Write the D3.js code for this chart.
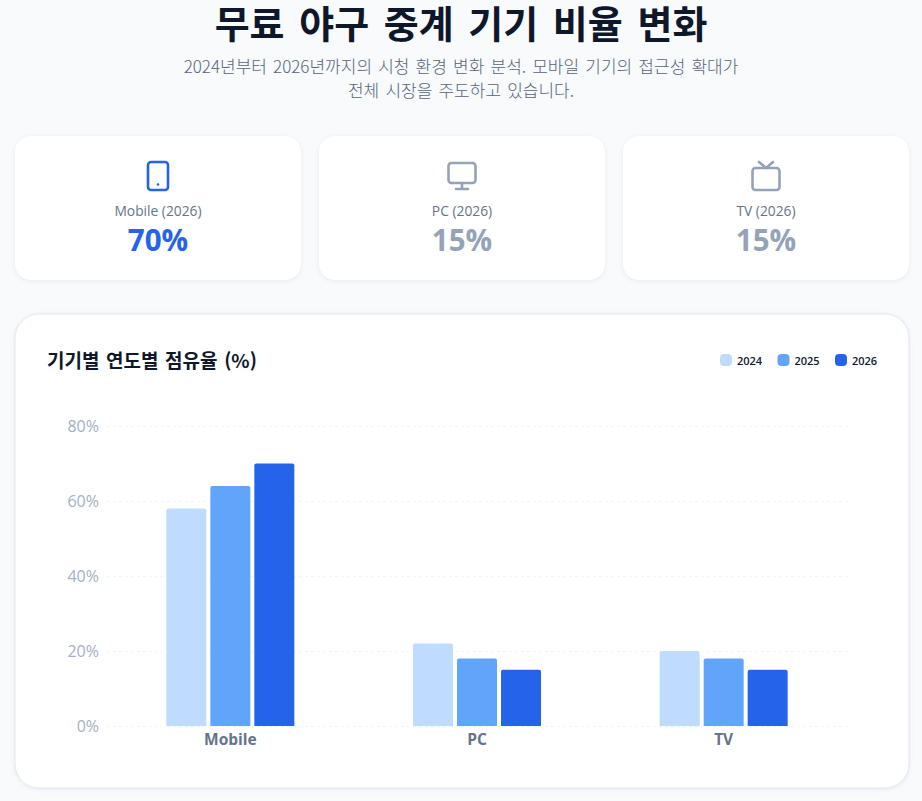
<!DOCTYPE html>
<html lang="ko">
<head>
<meta charset="utf-8">
<script src="https://cdn.jsdelivr.net/npm/d3@7"></script>
<style>
	html, body { margin: 0; padding: 0; background: #f8fafc; overflow: hidden; }
	svg { display: block; }
	text { font-family: "Noto Sans CJK KR", "Noto Sans", sans-serif; }
	.latin { font-family: "Open Sans", "Noto Sans CJK KR", sans-serif; }
	.card { fill: #fff; filter: drop-shadow(0 1px 2px rgba(15, 23, 42, 0.07)); }
</style>
</head>
<body>
<div id="chart"></div>
<script>
const devices = ['Mobile', 'PC', 'TV'];
const years = ['2024', '2025', '2026'];
const share2024 = [58, 22, 20];
const share2025 = [64, 18, 18];
const share2026 = [70, 15, 15];
const yTicks = [0, 20, 40, 60, 80];
const yearColors = ['#bfdbfe', '#60a5fa', '#2563eb'];

const titleText = '무료 야구 중계 기기 비율 변화';
const subtitleLines = [
	'2024년부터 2026년까지의 시청 환경 변화 분석. 모바일 기기의 접근성 확대가',
	'전체 시장을 주도하고 있습니다.',
];
const chartTitle = '기기별 연도별 점유율 (%)';

const svg = d3.select('#chart').append('svg').attr('width', 922).attr('height', 801);

// header
svg.append('text')
	.attr('x', 461).attr('y', 38)
	.attr('text-anchor', 'middle')
	.attr('font-size', 38).attr('font-weight', 700)
	.attr('word-spacing', 4)
	.attr('fill', '#0f172a')
	.text(titleText);

svg.selectAll('.subtitle')
	.data(subtitleLines)
	.join('text')
	.attr('class', 'subtitle')
	.attr('x', 461)
	.attr('y', (d, i) => 73 + i * 24)
	.attr('text-anchor', 'middle')
	.attr('font-size', 17)
	.attr('font-weight', 300)
	.attr('word-spacing', 1.4)
	.attr('fill', '#566579')
	.text((d) => d);

// summary cards
const cardX = [15, 319, 623];
const cardColors = ['#2563eb', '#94a3b8', '#94a3b8'];
const icons = [
	(g, color) => {
		g.append('rect').attr('x', -10).attr('y', -14).attr('width', 20).attr('height', 28).attr('rx', 3);
		g.append('circle').attr('cx', 0).attr('cy', 8.5).attr('r', 1.3).attr('fill', color).attr('stroke', 'none');
	},
	(g) => {
		g.append('rect').attr('x', -13.5).attr('y', -13).attr('width', 27).attr('height', 20).attr('rx', 3);
		g.append('path').attr('d', 'M0 7V13M-6 13H6');
	},
	(g) => {
		g.append('rect').attr('x', -13.5).attr('y', -8).attr('width', 27).attr('height', 22).attr('rx', 3);
		g.append('path').attr('d', 'M-7 -14L0 -8L7 -14');
	},
];

const cards = svg.selectAll('.stat')
	.data(devices)
	.join('g')
	.attr('class', 'stat')
	.attr('transform', (d, i) => `translate(${cardX[i]},136)`);

cards.append('rect')
	.attr('class', 'card')
	.attr('width', 286).attr('height', 144).attr('rx', 16);

cards.append('g')
	.attr('transform', 'translate(143,40)')
	.attr('fill', 'none')
	.attr('stroke', (d, i) => cardColors[i])
	.attr('stroke-width', 2.6)
	.attr('stroke-linecap', 'round')
	.attr('stroke-linejoin', 'round')
	.each(function (d, i) { icons[i](d3.select(this), cardColors[i]); });

cards.append('text')
	.attr('class', 'latin')
	.attr('x', 143).attr('y', 80)
	.attr('text-anchor', 'middle')
	.attr('font-size', 13.8)
	.attr('fill', '#64748b')
	.text((d) => `${d} (2026)`);

cards.append('text')
	.attr('class', 'latin')
	.attr('x', 143).attr('y', 115)
	.attr('text-anchor', 'middle')
	.attr('font-size', 29.5).attr('font-weight', 700)
	.attr('fill', (d, i) => cardColors[i])
	.text((d, i) => `${share2026[i]}%`);

// chart card
svg.append('rect')
	.attr('class', 'card')
	.attr('x', 15).attr('y', 314)
	.attr('width', 894).attr('height', 474)
	.attr('rx', 24)
	.attr('stroke', '#e2e8f0');

svg.append('text')
	.attr('x', 47).attr('y', 368)
	.attr('font-size', 19).attr('font-weight', 700)
	.attr('word-spacing', 1.3)
	.attr('fill', '#0f172a')
	.text(chartTitle);

// legend
const legendX = [720, 777.5, 835];
const legend = svg.selectAll('.legend-item')
	.data(years)
	.join('g')
	.attr('class', 'legend-item')
	.attr('transform', (d, i) => `translate(${legendX[i]},354)`);

legend.append('rect')
	.attr('width', 12).attr('height', 12).attr('rx', 4)
	.attr('fill', (d, i) => yearColors[i]);

legend.append('text')
	.attr('class', 'latin')
	.attr('x', 17).attr('y', 10.5)
	.attr('font-size', 11).attr('font-weight', 600)
	.attr('fill', '#0f172a')
	.text((d) => d);

// bars
const x0 = d3.scaleBand().domain(devices).range([107, 847]);
const x1 = d3.scaleBand().domain(years).range([-64, 64]).paddingInner(0.0909);
const y = d3.scaleLinear().domain([0, 80]).range([726, 426]);

const seriesByYear = [share2024, share2025, share2026];

const yAxisG = svg.append('g')
	.attr('transform', 'translate(107,0)')
	.call(d3.axisLeft(y).tickValues(yTicks).tickFormat((d) => `${d}%`).tickSize(-741).tickPadding(8));
yAxisG.select('.domain').remove();
yAxisG.selectAll('line')
	.attr('stroke', '#f1f5f9')
	.attr('stroke-width', 1)
	.attr('stroke-dasharray', '3 3');
yAxisG.selectAll('text')
	.attr('class', 'latin')
	.attr('font-size', 16)
	.attr('fill', '#a3b0c4');

const barPath = (bx, by, w, h, r) =>
	`M${bx},${by + h}V${by + r}Q${bx},${by} ${bx + r},${by}H${bx + w - r}Q${bx + w},${by} ${bx + w},${by + r}V${by + h}Z`;

svg.append('g')
	.selectAll('g')
	.data(devices)
	.join('g')
	.attr('transform', (d) => `translate(${x0(d) + x0.bandwidth() / 2},0)`)
	.selectAll('path')
	.data((d, i) => years.map((yr, j) => ({ yr, j, value: seriesByYear[j][i] })))
	.join('path')
	.attr('fill', (d) => yearColors[d.j])
	.attr('d', (d) => barPath(x1(d.yr), y(d.value), x1.bandwidth(), y(0) - y(d.value), 2));

const xAxisG = svg.append('g')
	.attr('transform', 'translate(0,726)')
	.call(d3.axisBottom(x0).tickSize(0).tickPadding(8));
xAxisG.select('.domain').remove();
xAxisG.selectAll('text')
	.attr('class', 'latin')
	.attr('font-size', 15.5)
	.attr('font-weight', 700)
	.attr('fill', '#64748b');
</script>
</body>
</html>
